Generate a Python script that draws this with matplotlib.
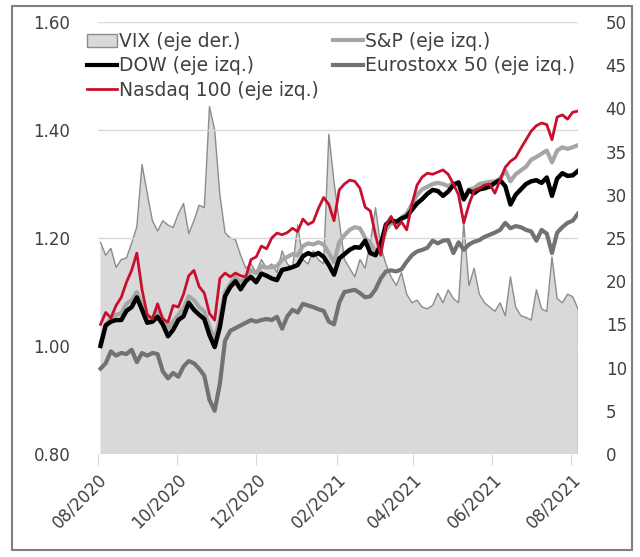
import matplotlib
matplotlib.use("Agg")
import matplotlib.pyplot as plt
import matplotlib.dates as mdates
from matplotlib.patches import Rectangle, Patch
from matplotlib.lines import Line2D
import pandas as pd

# fechas cada 4 dias desde 03/08/2020
dates = pd.date_range("2020-08-03", periods=93, freq="4D")

vix = [24.5, 23.0, 23.8, 21.6, 22.5, 22.7, 24.4, 26.3, 33.5, 30.2,
       27.0, 25.8, 27.0, 26.5, 26.2, 27.8, 29.0, 25.5, 27.0, 28.8,
       28.5, 40.2, 37.5, 30.0, 25.6, 25.0, 24.8, 23.0, 21.5, 22.0,
       21.0, 22.5, 21.5, 22.0, 21.0, 23.5, 22.0, 21.5, 26.5, 22.5,
       22.0, 23.5, 22.5, 22.0, 37.0, 31.5, 27.0, 22.5, 21.5, 20.5,
       22.5, 21.5, 24.5, 28.5, 24.0, 22.0, 20.5, 19.5, 21.0, 18.5,
       17.5, 17.8, 17.0, 16.8, 17.2, 18.6, 17.5, 19.0, 18.0, 17.5,
       26.7, 19.5, 21.5, 18.5, 17.5, 17.0, 16.5, 17.5, 16.0, 20.5,
       17.0, 16.0, 15.8, 15.5, 19.0, 16.8, 16.5, 22.8, 18.0, 17.5,
       18.5, 18.2, 16.8]

sp = [1.005, 1.040, 1.050, 1.058, 1.060, 1.078, 1.085, 1.100, 1.075, 1.050,
      1.052, 1.064, 1.050, 1.032, 1.045, 1.058, 1.070, 1.092, 1.085, 1.072,
      1.064, 1.035, 1.012, 1.050, 1.100, 1.115, 1.128, 1.118, 1.128, 1.140,
      1.135, 1.148, 1.145, 1.146, 1.148, 1.160, 1.165, 1.170, 1.168, 1.185,
      1.190, 1.188, 1.192, 1.188, 1.172, 1.155, 1.192, 1.205, 1.215, 1.220,
      1.218, 1.200, 1.190, 1.175, 1.182, 1.215, 1.228, 1.225, 1.238, 1.245,
      1.262, 1.280, 1.290, 1.295, 1.300, 1.302, 1.300, 1.296, 1.302, 1.300,
      1.270, 1.290, 1.292, 1.300, 1.302, 1.304, 1.305, 1.310, 1.325, 1.305,
      1.318, 1.325, 1.332, 1.345, 1.350, 1.356, 1.362, 1.340, 1.362, 1.368,
      1.365, 1.368, 1.372]

dow = [1.000, 1.038, 1.045, 1.048, 1.048, 1.065, 1.072, 1.090, 1.067, 1.043,
       1.045, 1.054, 1.040, 1.018, 1.030, 1.048, 1.055, 1.080, 1.067, 1.058,
       1.050, 1.020, 0.998, 1.035, 1.092, 1.109, 1.120, 1.105, 1.120, 1.128,
       1.118, 1.134, 1.130, 1.125, 1.122, 1.141, 1.143, 1.146, 1.150, 1.166,
       1.172, 1.168, 1.172, 1.165, 1.150, 1.132, 1.162, 1.170, 1.178, 1.183,
       1.182, 1.195, 1.172, 1.168, 1.188, 1.225, 1.233, 1.230, 1.236, 1.240,
       1.252, 1.264, 1.272, 1.282, 1.289, 1.287, 1.278, 1.286, 1.298, 1.303,
       1.272, 1.288, 1.283, 1.290, 1.292, 1.295, 1.302, 1.307, 1.296, 1.262,
       1.280, 1.290, 1.300, 1.305, 1.307, 1.302, 1.312, 1.278, 1.310, 1.320,
       1.315, 1.316, 1.324]

stoxx = [0.958, 0.968, 0.990, 0.982, 0.987, 0.985, 0.993, 0.970, 0.987, 0.982,
         0.987, 0.985, 0.953, 0.940, 0.950, 0.943, 0.962, 0.972, 0.968, 0.958,
         0.945, 0.900, 0.880, 0.930, 1.010, 1.028, 1.033, 1.038, 1.043, 1.048,
         1.045, 1.048, 1.050, 1.048, 1.054, 1.032, 1.055, 1.067, 1.062, 1.078,
         1.075, 1.072, 1.068, 1.065, 1.045, 1.040, 1.080, 1.100, 1.102, 1.104,
         1.098, 1.090, 1.092, 1.105, 1.125, 1.138, 1.140, 1.138, 1.142, 1.156,
         1.168, 1.175, 1.178, 1.182, 1.195, 1.190, 1.195, 1.196, 1.172, 1.192,
         1.178, 1.188, 1.193, 1.196, 1.202, 1.206, 1.210, 1.215, 1.228, 1.218,
         1.222, 1.220, 1.215, 1.212, 1.195, 1.215, 1.208, 1.172, 1.210, 1.220,
         1.228, 1.232, 1.245]

nasdaq = [1.040, 1.062, 1.052, 1.075, 1.090, 1.118, 1.140, 1.172, 1.104, 1.058,
          1.050, 1.078, 1.050, 1.044, 1.075, 1.072, 1.096, 1.130, 1.140, 1.110,
          1.098, 1.060, 1.048, 1.125, 1.135, 1.128, 1.135, 1.130, 1.128, 1.160,
          1.165, 1.185, 1.180, 1.200, 1.209, 1.206, 1.210, 1.218, 1.212, 1.235,
          1.225, 1.230, 1.255, 1.275, 1.262, 1.232, 1.289, 1.300, 1.307, 1.305,
          1.292, 1.257, 1.250, 1.205, 1.168, 1.225, 1.240, 1.218, 1.230, 1.215,
          1.262, 1.298, 1.313, 1.320, 1.318, 1.322, 1.326, 1.318, 1.300, 1.280,
          1.228, 1.262, 1.288, 1.292, 1.298, 1.300, 1.283, 1.307, 1.331, 1.342,
          1.349, 1.366, 1.382, 1.398, 1.408, 1.413, 1.410, 1.382, 1.424, 1.428,
          1.420, 1.433, 1.435]

labels = ["VIX (eje der.)", "S&P (eje izq.)", "DOW (eje izq.)",
          "Eurostoxx 50 (eje izq.)", "Nasdaq 100 (eje izq.)"]
c_vix_fill = "#d9d9d9"
c_vix_line = "#8c8c8c"
c_sp = "#a6a6a6"
c_dow = "#000000"
c_stoxx = "#767171"
c_nasdaq = "#c8102e"
txt = "#404040"

fig = plt.figure(figsize=(6.4, 5.57), dpi=100)
ax = fig.add_axes([0.153, 0.185, 0.750, 0.7755])
ax2 = ax.twinx()
ax.set_zorder(ax2.get_zorder() + 1)
ax.patch.set_visible(False)

# VIX area on the right axis
ax2.fill_between(dates, vix, 0, facecolor=c_vix_fill, edgecolor="none")
ax2.plot(dates, vix, color=c_vix_line, lw=1)
ax2.plot([dates[-1], dates[-1]], [0, vix[-1]], color=c_vix_line, lw=1)
ax2.set_ylim(0, 50)
ax2.set_yticks(range(0, 51, 5))

ax.plot(dates, sp, color=c_sp, lw=3)
ax.plot(dates, stoxx, color=c_stoxx, lw=3)
ax.plot(dates, dow, color=c_dow, lw=3.2)
ax.plot(dates, nasdaq, color=c_nasdaq, lw=2)
ax.set_ylim(0.80, 1.60)
ax.set_yticks([0.80, 1.00, 1.20, 1.40, 1.60])
ax.yaxis.set_major_formatter(matplotlib.ticker.FormatStrFormatter("%.2f"))
ax.grid(axis="y", color="#d9d9d9", lw=1)
ax.set_axisbelow(True)

ax.set_xlim(pd.Timestamp("2020-08-01"), dates[-1])
ax.xaxis.set_major_locator(mdates.MonthLocator(bymonth=[2, 4, 6, 8, 10, 12]))
ax.xaxis.set_major_formatter(mdates.DateFormatter("%m/%Y"))
for lab in ax.get_xticklabels():
    lab.set_rotation(45)
    lab.set_ha("right")
    lab.set_rotation_mode("anchor")

for a in (ax, ax2):
    for s in a.spines.values():
        s.set_visible(False)
ax.tick_params(axis="x", colors="#d9d9d9", labelcolor=txt, length=8,
               labelsize=12, pad=4)
ax.tick_params(axis="y", length=0, labelcolor=txt, labelsize=12, pad=20)
ax2.tick_params(axis="y", length=0, labelcolor=txt, labelsize=12, pad=20)

handles = [Patch(facecolor=c_vix_fill, edgecolor=c_vix_line, lw=1),
           Line2D([], [], color=c_dow, lw=3),
           Line2D([], [], color=c_nasdaq, lw=2),
           Line2D([], [], color=c_sp, lw=3),
           Line2D([], [], color=c_stoxx, lw=3)]
leg_labels = [labels[0], labels[2], labels[4], labels[1], labels[3]]
fig.legend(handles, leg_labels, ncol=2, loc="upper left",
           bbox_to_anchor=(0.136, 0.943), frameon=False, fontsize=13.5,
           handlelength=1.6, handletextpad=0.1, columnspacing=0.75,
           labelspacing=0.3, borderpad=0, borderaxespad=0, labelcolor=txt)

fig.add_artist(Rectangle((0.019, 0.013), 0.968, 0.976, transform=fig.transFigure,
                         fill=False, edgecolor="#808080", lw=1.5))

fig.savefig("out.png", dpi=100)
